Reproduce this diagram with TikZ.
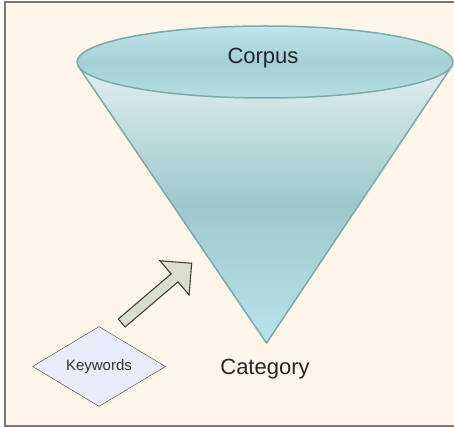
\documentclass[tikz,border=0pt]{standalone}
\usepackage{fontspec}
\setmainfont{Liberation Sans}
\usetikzlibrary{shapes.geometric}

\definecolor{paper}{RGB}{253,245,232}
\definecolor{frameline}{RGB}{120,120,120}
\definecolor{conetop}{RGB}{224,239,237}
\definecolor{conemid}{RGB}{158,200,204}
\definecolor{conebot}{RGB}{182,228,235}
\definecolor{coneline}{RGB}{125,168,172}
\definecolor{lidtop}{RGB}{190,230,236}
\definecolor{lidmid}{RGB}{164,208,213}
\definecolor{lidbot}{RGB}{180,222,226}
\definecolor{kwfill}{RGB}{232,236,248}
\definecolor{arrowfill}{RGB}{217,223,201}

\begin{document}
\begin{tikzpicture}[x=1pt,y=-1pt,
  bigtext/.style={font=\fontsize{22}{26}\selectfont, text=black!85},
  kwbox/.style={diamond, draw=black!75, fill=kwfill, minimum width=133pt, minimum height=79pt, inner sep=0pt, font=\fontsize{15}{18}\selectfont, text=black!80}]

\useasboundingbox (0,0) rectangle (454,427);
\fill[white] (0,0) rectangle (454,427);
\draw[frameline, line width=2pt, fill=paper] (4.5,2.5) rectangle (470,425.5);

\coordinate (C) at (265,62);
\coordinate (A) at (266.5,343);
\coordinate (Tl) at (78.5,66.6);
\coordinate (Tr) at (451.5,66.6);

\draw[coneline, line width=1.5pt, line join=round, top color=conetop, bottom color=conebot, middle color=conemid] (Tl) -- (A) -- (Tr) -- cycle;
\draw[coneline, line width=1.5pt, top color=lidtop, bottom color=lidbot, middle color=lidmid] (C) ellipse [x radius=188pt, y radius=36pt];

\node[bigtext, anchor=base] (corpus) at (263,64) {Corpus};
\node[bigtext, anchor=base] (cat) at (265,374) {Category};
\node[kwbox] (kw) at (99,366.5) {Keywords};

\begin{scope}[shift={(121.7,323)}, rotate=40.5]
\draw[black!75, line width=1.1pt, fill=arrowfill] (0,-5.25) -- (69.5,-5.25) -- (69.5,-22.5) -- (92,0) -- (69.5,22.5) -- (69.5,5.25) -- (0,5.25) -- cycle;
\end{scope}
\end{tikzpicture}
\end{document}
